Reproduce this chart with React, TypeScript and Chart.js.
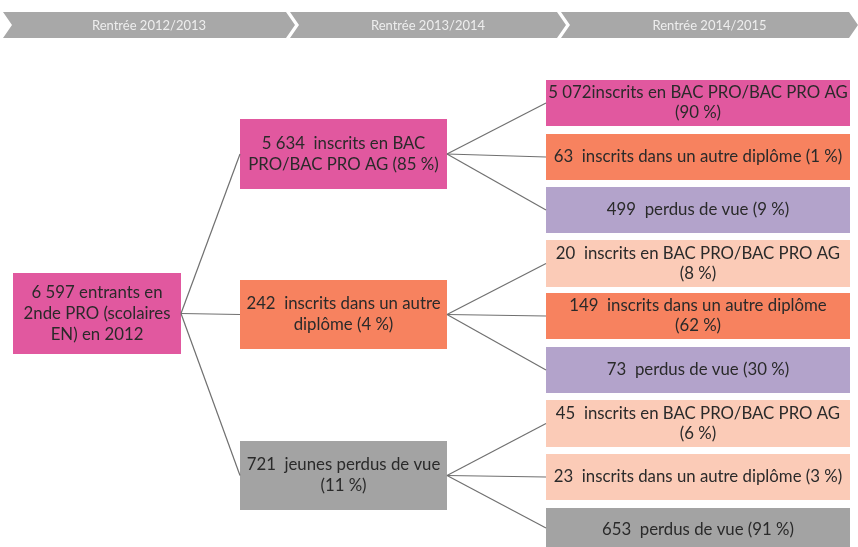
import React, { useEffect, useRef } from 'react';
import { Chart, registerables } from 'chart.js';

Chart.register(...registerables);

// ---- Data ----
const periods = ['Rentrée 2012/2013', 'Rentrée 2013/2014', 'Rentrée 2014/2015'];

const rootCount = '6 597';
const rootLines = ['6 597 entrants en', '2nde PRO (scolaires', 'EN) en 2012'];
const rootKind = 'bac';

const level2Counts = ['5 634', '242', '721'];
const level2Shares = ['85 %', '4 %', '11 %'];
const level2Lines = [
  ['5 634  inscrits en BAC', 'PRO/BAC PRO AG (85 %)'],
  ['242  inscrits dans un autre', 'diplôme (4 %)'],
  ['721  jeunes perdus de vue', '(11 %)'],
];
const level2Kinds = ['bac', 'autre', 'perdus'];

const level3Parent = [0, 0, 0, 1, 1, 1, 2, 2, 2];
const level3Counts = ['5 072', '63', '499', '20', '149', '73', '45', '23', '653'];
const level3Shares = ['90 %', '1 %', '9 %', '8 %', '62 %', '30 %', '6 %', '3 %', '91 %'];
const level3Lines = [
  ['5 072inscrits en BAC PRO/BAC PRO AG', '(90 %)'],
  ['63  inscrits dans un autre diplôme (1 %)'],
  ['499  perdus de vue (9 %)'],
  ['20  inscrits en BAC PRO/BAC PRO AG', '(8 %)'],
  ['149  inscrits dans un autre diplôme', '(62 %)'],
  ['73  perdus de vue (30 %)'],
  ['45  inscrits en BAC PRO/BAC PRO AG', '(6 %)'],
  ['23  inscrits dans un autre diplôme (3 %)'],
  ['653  perdus de vue (91 %)'],
];
const level3Kinds = ['bac', 'autre', 'lost', 'light', 'autre', 'lost', 'light', 'light', 'perdus'];

// ---- Styles ----
const kindColors: Record<string, string> = {
  bac: '#e1589f',
  autre: '#f7825f',
  perdus: '#a3a3a3',
  lost: '#b3a3cb',
  light: '#fbcbb7',
};
const headerFill = '#a8a8a8';
const headerText = '#eeeeee';
const textColor = '#2a2a2a';
const lineColor = '#707070';
const FONT = 'Lato, "Open Sans", sans-serif';
const BOX_FONT_SIZE = 16.8;

// ---- Layout (chart units == canvas pixels) ----
const W = 858;
const H = 547;
const headerBand = [12, 38];
const headerSpans = [[3, 286], [290, 557], [561, 849]];
const chevronDepth = 9;
const colX = [[13, 181], [240, 447], [546, 850]];
const rootY = [273, 354];
const level2Y = [[119, 189], [280, 349], [441, 510]];
const level3Y = [
  [80, 126], [134, 180], [187, 233],
  [240, 287], [293, 339], [347, 393],
  [400, 447], [454, 500], [508, 552],
];

const mid = (r: number[]) => (r[0] + r[1]) / 2;

function buildLinks() {
  const links: { x: number; y: number }[][] = [];
  level2Y.forEach((r) => {
    links.push([
      { x: colX[0][1], y: mid(rootY) },
      { x: colX[1][0], y: mid(r) },
    ]);
  });
  level3Y.forEach((r, i) => {
    const p = level2Y[level3Parent[i]];
    links.push([
      { x: colX[1][1], y: mid(p) },
      { x: colX[2][0], y: i === 8 ? 528 : mid(r) },
    ]);
  });
  return links;
}

const diagramPlugin = {
  id: 'diagram',
  beforeDatasetsDraw(chart: any) {
    const { ctx, scales } = chart;
    const px = (v: number) => scales.x.getPixelForValue(v);
    const py = (v: number) => scales.y.getPixelForValue(v);
    ctx.save();
    const t = py(headerBand[0]);
    const b = py(headerBand[1]);
    const m = (t + b) / 2;
    headerSpans.forEach((s, i) => {
      const L = px(s[0]);
      const R = px(s[1]);
      const d = chevronDepth;
      ctx.beginPath();
      ctx.moveTo(L, t);
      ctx.lineTo(R, t);
      ctx.lineTo(R + d, m);
      ctx.lineTo(R, b);
      ctx.lineTo(L, b);
      ctx.lineTo(L + d, m);
      ctx.closePath();
      ctx.fillStyle = headerFill;
      ctx.fill();
      ctx.fillStyle = headerText;
      ctx.font = `13px ${FONT}`;
      ctx.textAlign = 'center';
      ctx.textBaseline = 'middle';
      ctx.fillText(periods[i], (L + R + d) / 2, m + 1);
    });
    const box = (xr: number[], yr: number[], kind: string) => {
      ctx.fillStyle = kindColors[kind];
      ctx.fillRect(px(xr[0]), py(yr[0]), px(xr[1]) - px(xr[0]), py(yr[1]) - py(yr[0]));
    };
    box(colX[0], rootY, rootKind);
    level2Y.forEach((r, i) => box(colX[1], r, level2Kinds[i]));
    level3Y.forEach((r, i) => box(colX[2], r, level3Kinds[i]));
    ctx.restore();
  },
  afterDatasetsDraw(chart: any) {
    const { ctx, scales } = chart;
    const px = (v: number) => scales.x.getPixelForValue(v);
    const py = (v: number) => scales.y.getPixelForValue(v);
    ctx.save();
    ctx.fillStyle = textColor;
    ctx.font = `${BOX_FONT_SIZE}px ${FONT}`;
    ctx.textAlign = 'center';
    ctx.textBaseline = 'middle';
    const text = (xr: number[], yr: number[], lines: string[], lh: number, cy?: number) => {
      const cx = (px(xr[0]) + px(xr[1])) / 2;
      const c = cy !== undefined ? py(cy) : (py(yr[0]) + py(yr[1])) / 2;
      const start = c - ((lines.length - 1) * lh) / 2;
      lines.forEach((l, k) => ctx.fillText(l, cx, start + k * lh));
    };
    text(colX[0], rootY, rootLines, 21);
    level2Y.forEach((r, i) => text(colX[1], r, level2Lines[i], 21));
    level3Y.forEach((r, i) => text(colX[2], r, level3Lines[i], 20, i === 8 ? 530 : undefined));
    ctx.restore();
  },
};

export default function App() {
  const ref = useRef<HTMLCanvasElement>(null);
  useEffect(() => {
    if (!ref.current) return;
    const links = buildLinks();
    const chart = new Chart(ref.current, {
      type: 'scatter',
      data: {
        datasets: links.map((pts) => ({
          data: pts,
          showLine: true,
          borderColor: lineColor,
          borderWidth: 1.2,
          pointRadius: 0,
          fill: false,
        })),
      },
      options: {
        responsive: false,
        animation: false,
        layout: { padding: 0 },
        plugins: { legend: { display: false }, tooltip: { enabled: false } },
        scales: {
          x: { type: 'linear', min: 0, max: W, display: false },
          y: { type: 'linear', min: 0, max: H, reverse: true, display: false },
        },
      },
      plugins: [diagramPlugin],
    });
    return () => chart.destroy();
  }, []);
  return (
    <div style={{ width: W, height: H, background: '#fff' }}>
      <style>{'body{margin:0;}'}</style>
      <canvas ref={ref} width={W} height={H} style={{ display: 'block' }} />
    </div>
  );
}
